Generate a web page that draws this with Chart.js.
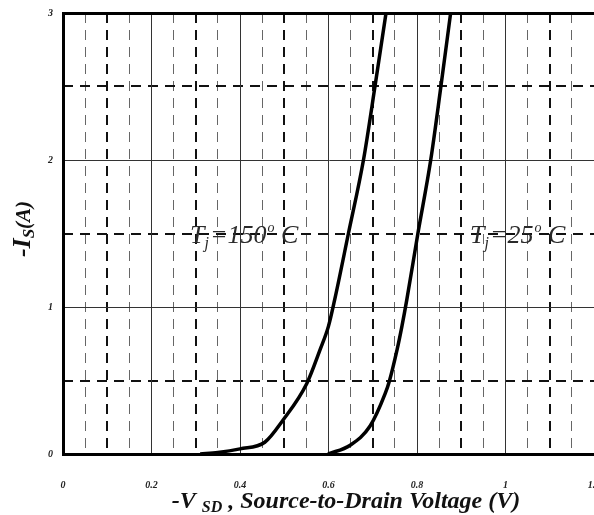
<!DOCTYPE html>
<html>
<head>
<meta charset="utf-8">
<script src="https://cdn.jsdelivr.net/npm/chart.js@4/dist/chart.umd.min.js"></script>
<style>
  html, body { margin: 0; padding: 0; background: #fff; overflow: hidden; }
  #wrap { width: 602px; height: 515px; position: relative; }
</style>
</head>
<body>
<div id="wrap"><canvas id="myChart"></canvas></div>
<script>
// Tj = 150 C curve
const hotV = [0.31, 0.35, 0.40, 0.456, 0.497, 0.551, 0.581, 0.600, 0.614, 0.645, 0.679, 0.705, 0.730];
const hotI = [0.00, 0.01, 0.035, 0.08, 0.23, 0.48, 0.71, 0.87, 1.05, 1.50, 2.00, 2.50, 3.00];
// Tj = 25 C curve
const coldV = [0.599, 0.649, 0.694, 0.728, 0.737, 0.755, 0.766, 0.777, 0.802, 0.831, 0.854, 0.876];
const coldI = [0.00, 0.06, 0.19, 0.41, 0.49, 0.71, 0.87, 1.05, 1.50, 2.00, 2.50, 3.00];

// grid / tick positions
const xMajor = [0, 0.2, 0.4, 0.6, 0.8, 1.0, 1.2];
const xMid = [0.1, 0.3, 0.5, 0.7, 0.9, 1.1];
const xMinor = [0.05, 0.15, 0.25, 0.35, 0.45, 0.55, 0.65, 0.75, 0.85, 0.95, 1.05, 1.15];
const yMajor = [0, 1, 2, 3];
const yMid = [0.5, 1.5, 2.5];

const labels = [
    { x: 0.287, y: 1.5, parts: ['T', 'j', '=150', 'o', ' C'] },
    { x: 0.92, y: 1.5, parts: ['T', 'j', '=25', 'o', ' C'] }
];

function pts(xs, ys) {
    return xs.map((v, i) => ({ x: v, y: ys[i] }));
}
function setTicks(arr) {
    return scale => { scale.ticks = arr.map(v => ({ value: v })); };
}
const SERIF = "'Liberation Serif', 'Times New Roman', serif";

function extraScale(pos, arr, width, color) {
    return {
        type: 'linear', position: pos, min: 0, max: pos === 'bottom' ? 1.2 : 3,
        afterBuildTicks: setTicks(arr),
        afterFit: s => {
            if (pos === 'bottom') s.height = 0; else s.width = 0;
            s.paddingLeft = 0; s.paddingRight = 0; s.paddingTop = 0; s.paddingBottom = 0;
        },
        ticks: { display: false },
        border: { display: false, dash: [10, 7] },
        grid: { color: color, lineWidth: width, drawTicks: false }
    };
}

// draws the text bits: axis titles and Tj labels
const textPlugin = {
    id: 'texts',
    afterDraw(chart) {
        const ctx = chart.ctx;
        const xs = chart.scales.x, ys = chart.scales.y;
        ctx.save();
        ctx.fillStyle = '#111';
        ctx.textBaseline = 'alphabetic';
        ctx.textAlign = 'left';

        // x title
        const big = 'bold italic 24px ' + SERIF, small = 'bold italic 16px ' + SERIF;
        ctx.font = big;
        let w1 = ctx.measureText('-V ').width;
        let w3 = ctx.measureText(' , Source-to-Drain Voltage (V)').width;
        ctx.font = small;
        let w2 = ctx.measureText('SD').width;
        let x0 = 346 - (w1 + w2 + w3) / 2, base = 508;
        ctx.font = big; ctx.fillText('-V ', x0, base);
        ctx.font = small; ctx.fillText('SD', x0 + w1, base + 4);
        ctx.font = big; ctx.fillText(' , Source-to-Drain Voltage (V)', x0 + w1 + w2, base);

        // y title (rotated)
        ctx.save();
        ctx.translate(30, 229);
        ctx.rotate(-Math.PI / 2);
        const yb = 'bold italic 26px ' + SERIF, ys2 = 'bold italic 17px ' + SERIF, ya = 'bold italic 21px ' + SERIF;
        ctx.font = yb; let a = ctx.measureText('-I').width;
        ctx.font = ys2; let b = ctx.measureText('S').width;
        ctx.font = ya; let c = ctx.measureText('(A)').width;
        let sx = -(a + b + c) / 2;
        ctx.font = yb; ctx.fillText('-I', sx, 0);
        ctx.font = ys2; ctx.fillText('S', sx + a, 4);
        ctx.font = ya; ctx.fillText('(A)', sx + a + b, 0);
        ctx.restore();

        // Tj labels
        ctx.fillStyle = '#2a2a2a';
        labels.forEach(l => {
            let px = xs.getPixelForValue(l.x), py = ys.getPixelForValue(l.y) + 9;
            const f = 'italic 26px ' + SERIF, fs = 'italic 16px ' + SERIF, fo = 'italic 14px ' + SERIF;
            ctx.font = f; ctx.fillText(l.parts[0], px, py); px += ctx.measureText(l.parts[0]).width;
            ctx.font = fs; ctx.fillText(l.parts[1], px, py + 5); px += ctx.measureText(l.parts[1]).width + 1;
            ctx.font = f; ctx.fillText(l.parts[2], px, py); px += ctx.measureText(l.parts[2]).width + 1;
            ctx.font = fo; ctx.fillText(l.parts[3], px, py - 11); px += ctx.measureText(l.parts[3]).width;
            ctx.font = f; ctx.fillText(l.parts[4], px, py);
        });
        ctx.restore();
    }
};

const data = {
    datasets: [{
        label: 'Tj=150C',
        data: pts(hotV, hotI),
        showLine: true,
        borderColor: '#000',
        borderWidth: 3.5,
        pointRadius: 0,
        cubicInterpolationMode: 'monotone'
    }, {
        label: 'Tj=25C',
        data: pts(coldV, coldI),
        showLine: true,
        borderColor: '#000',
        borderWidth: 3.5,
        pointRadius: 0,
        cubicInterpolationMode: 'monotone'
    }]
};

const config = {
    type: 'scatter',
    data: data,
    plugins: [textPlugin],
    options: {
        responsive: true,
        maintainAspectRatio: false,
        animation: false,
        layout: { padding: { top: 13, left: 0, right: 0, bottom: 0 } },
        plugins: { legend: { display: false }, tooltip: { enabled: false } },
        scales: {
            xt: extraScale('bottom', xMinor, 1, '#666'),
            xb: extraScale('bottom', xMid, 2, '#111'),
            yb: extraScale('left', yMid, 2, '#111'),
            x: {
                type: 'linear', position: 'bottom', min: 0, max: 1.2,
                afterBuildTicks: setTicks(xMajor),
                afterFit: s => { s.height = 61; s.paddingLeft = 0; s.paddingRight = 8; },
                border: { display: true, color: '#000', width: 3 },
                grid: { color: '#333', lineWidth: 1, drawTicks: false },
                ticks: {
                    autoSkip: false, maxRotation: 0, padding: 25, color: '#222',
                    font: { family: SERIF, size: 10, style: 'italic', weight: 'bold' },
                    callback: v => String(+v.toFixed(1))
                }
            },
            y: {
                type: 'linear', position: 'left', min: 0, max: 3,
                afterBuildTicks: setTicks(yMajor),
                afterFit: s => { s.width = 63; s.paddingTop = 0; s.paddingBottom = 0; },
                border: { display: true, color: '#000', width: 3 },
                grid: {
                    color: ctx => ctx.tick && ctx.tick.value === 3 ? '#000' : '#333',
                    lineWidth: ctx => ctx.tick && ctx.tick.value === 3 ? 3 : 1,
                    drawTicks: false
                },
                ticks: {
                    padding: 10, color: '#222',
                    font: { family: SERIF, size: 10, style: 'italic', weight: 'bold' }
                }
            }
        }
    }
};

const myChart = new Chart(document.getElementById('myChart'), config);
</script>
</body>
</html>
